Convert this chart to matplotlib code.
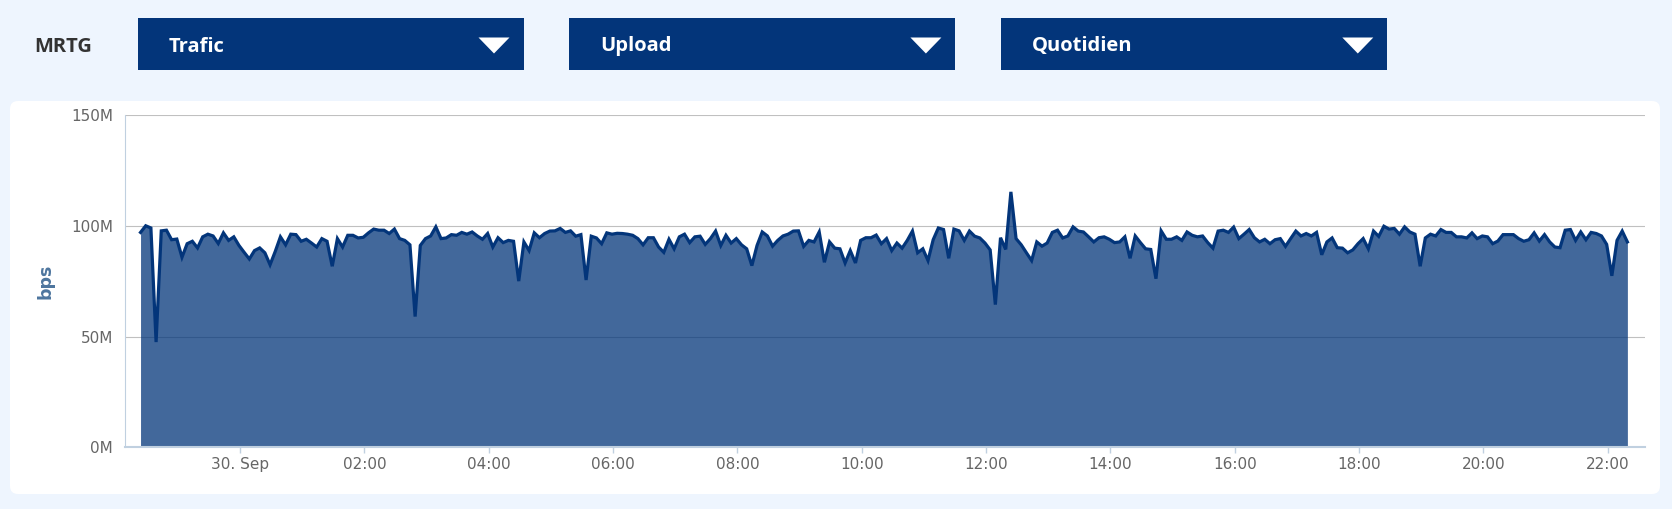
import numpy as np
import pandas as pd
import matplotlib
matplotlib.use("Agg")
import matplotlib.pyplot as plt
import matplotlib.dates as mdates
from matplotlib.patches import Rectangle, FancyBboxPatch, Polygon
from matplotlib.ticker import FuncFormatter
from matplotlib.transforms import IdentityTransform

# upload traffic, 5-min averages (Mbps)
debit = [
    97, 100, 99, 47.5, 97.7, 98, 93.7, 94, 85.8, 91.9,
    93, 90, 95, 96.2, 95.4, 92, 96.8, 93.4, 95, 91.1,
    88, 85, 88.8, 90, 87.8, 82.4, 88.4, 95, 91.4, 96.2,
    96, 93, 93.9, 92.2, 90.4, 94.2, 93, 81.7, 94.2, 90.4,
    95.7, 95.7, 94.5, 94.8, 96.8, 98.5, 98, 98, 96.5, 98.5,
    94.2, 93.4, 91.4, 59, 91.1, 94.2, 95.4, 99.5, 94.2, 94.5,
    96, 95.7, 97, 96.2, 97.2, 95.4, 93.9, 96.5, 90.4, 94.6,
    92.4, 93.4, 93, 75, 92.7, 88.8, 96.8, 94.6, 96.5, 97.6,
    97.7, 98.8, 97, 97.7, 95.3, 96, 75.5, 95.3, 94.5, 91.9,
    96.8, 96.2, 96.6, 96.5, 96.2, 95.7, 94.2, 91.4, 94.6, 94.6,
    90.4, 88, 93.9, 89.6, 95, 96.2, 92.4, 95, 95.3, 91.6,
    94.2, 97.6, 91.1, 95.7, 92.2, 94.2, 91.4, 89.6, 82, 91.1,
    97.2, 95.4, 90.8, 93.4, 95.4, 96.2, 97.6, 97.7, 90.7, 93.4,
    92.7, 97.2, 83.5, 92.7, 89.9, 89.6, 83.2, 88.8, 83.2, 93.4,
    94.6, 94.6, 95.8, 91.9, 94.2, 88.8, 92.2, 89.9, 93.4, 97.6,
    87.8, 89.6, 84.3, 93.7, 99, 98.3, 85.3, 98.5, 97.7, 93.4,
    97.6, 95.3, 94.5, 92.2, 89.1, 64.4, 94.6, 89.3, 115.3, 94.2,
    91.4, 87.8, 84.3, 92.7, 90.8, 92.2, 97, 98, 94.5, 95.4,
    99.5, 97.6, 97.2, 95, 92.7, 94.6, 95, 93.9, 92.4, 92.7,
    95, 85.3, 95.4, 92.4, 89.6, 89.3, 76.1, 97.7, 93.9, 93.9,
    95, 93.4, 97.2, 95.7, 95, 95.4, 92.4, 89.9, 97.6, 98,
    97, 99.4, 94.2, 96.2, 98.3, 94.6, 92.7, 93.9, 91.9, 93.7,
    94.2, 90.7, 94.2, 97.6, 95.4, 96.5, 95.4, 97, 86.9, 92.7,
    94.5, 90.1, 89.9, 87.8, 89.1, 91.9, 94.2, 89.6, 97.6, 95.2,
    99.8, 98.5, 98.8, 96.2, 99.5, 97.2, 96.2, 81.7, 94.5, 96.2,
    95.4, 98.3, 97, 97, 95, 95, 94.5, 96.8, 94.2, 95.4,
    95, 91.9, 93.1, 96, 96, 96, 94.2, 93, 93.7, 96.8,
    93.1, 96, 92.7, 90.4, 90.1, 98, 98.3, 93.4, 97.2, 93.7,
    97, 96.5, 95.4, 91.6, 77.4, 93.4, 97.6, 92.7,
]
debut = "2019-09-29 22:24"
menus = ["Trafic", "Upload", "Quotidien"]
y_ticks = [0, 50, 100, 150]
y_labels = ["0M", "50M", "100M", "150M"]

NAVY = "#03357A"
FOND = "#EEF5FE"

W, H = 1672, 509
fig = plt.figure(figsize=(W / 100, H / 100), dpi=100, facecolor=FOND)


def px(x, y):
    # pixel coords from top-left -> figure fraction
    return x / W, 1 - y / H


# white panel
panel = FancyBboxPatch((10, H - 494), 1650, 393, boxstyle="round,pad=0,rounding_size=8",
                       transform=IdentityTransform(), facecolor="white", edgecolor="none", zorder=-5)
fig.patches.append(panel)

# header
fig.text(*px(34, 47), "MRTG", family="Open Sans", weight="bold", fontsize=14.5,
         color="#333333", va="center", ha="left")
boites = [137.5, 569.4, 1001.3]
for bx, nom in zip(boites, menus):
    x0, y0 = px(bx, 70)
    fig.patches.append(Rectangle((x0, y0), 386 / W, 52 / H, transform=fig.transFigure,
                                 facecolor=NAVY, edgecolor="none"))
    fig.text(*px(bx + 31, 46.5), nom, family="Open Sans", weight="bold", fontsize=14.5,
             color="white", va="center", ha="left")
    tri = [px(bx + 341, 37.5), px(bx + 372, 37.5), px(bx + 356.5, 53.5)]
    fig.patches.append(Polygon(tri, closed=True, transform=fig.transFigure,
                               facecolor="white", edgecolor="none"))

# chart
ax = fig.add_axes([125 / W, 61.7 / H, 1520 / W, 332.3 / H])
ax.set_zorder(2)
ax.patch.set_visible(False)
t = pd.date_range(debut, periods=len(debit), freq="5min")
v = np.array(debit)

ax.fill_between(t, v, color=NAVY, alpha=0.75, lw=0, zorder=2)
ax.plot(t, v, color=NAVY, lw=2.3, zorder=3, solid_joinstyle="miter")

ax.set_ylim(0, 150)
ax.set_yticks(y_ticks)
ax.set_yticklabels(y_labels)
ax.set_xlim(pd.Timestamp("2019-09-29 22:09"), pd.Timestamp("2019-09-30 22:36"))
ax.xaxis.set_major_locator(mdates.HourLocator(byhour=range(0, 24, 2)))


def fmt(x, pos):
    d = mdates.num2date(x)
    if d.hour == 0 and d.minute == 0:
        return d.strftime("%d. %b").lstrip("0")
    return d.strftime("%H:%M")


ax.xaxis.set_major_formatter(FuncFormatter(fmt))

ax.grid(axis="y", color="#C0C0C0", lw=0.8, zorder=1)
ax.set_axisbelow(True)
for s in ["top", "right"]:
    ax.spines[s].set_visible(False)
ax.spines["left"].set_color("#C0D0E0")
ax.spines["bottom"].set_color("#C0D0E0")
ax.spines["bottom"].set_linewidth(1.5)
ax.spines["bottom"].set_zorder(4)

ax.tick_params(axis="y", length=0, pad=8.5, labelsize=11, labelcolor="#666666")
ax.tick_params(axis="x", length=4, width=1, color="#C0D0E0", pad=3, labelsize=11,
               labelcolor="#666666")
for lab in ax.get_xticklabels() + ax.get_yticklabels():
    lab.set_family("DejaVu Sans")

ax.set_ylabel("bps", fontsize=12.5, color="#4D759E", weight="bold")
ax.yaxis.set_label_coords(-70 / 1520, 0.5)

fig.savefig("out.png", dpi=100, facecolor=FOND)
